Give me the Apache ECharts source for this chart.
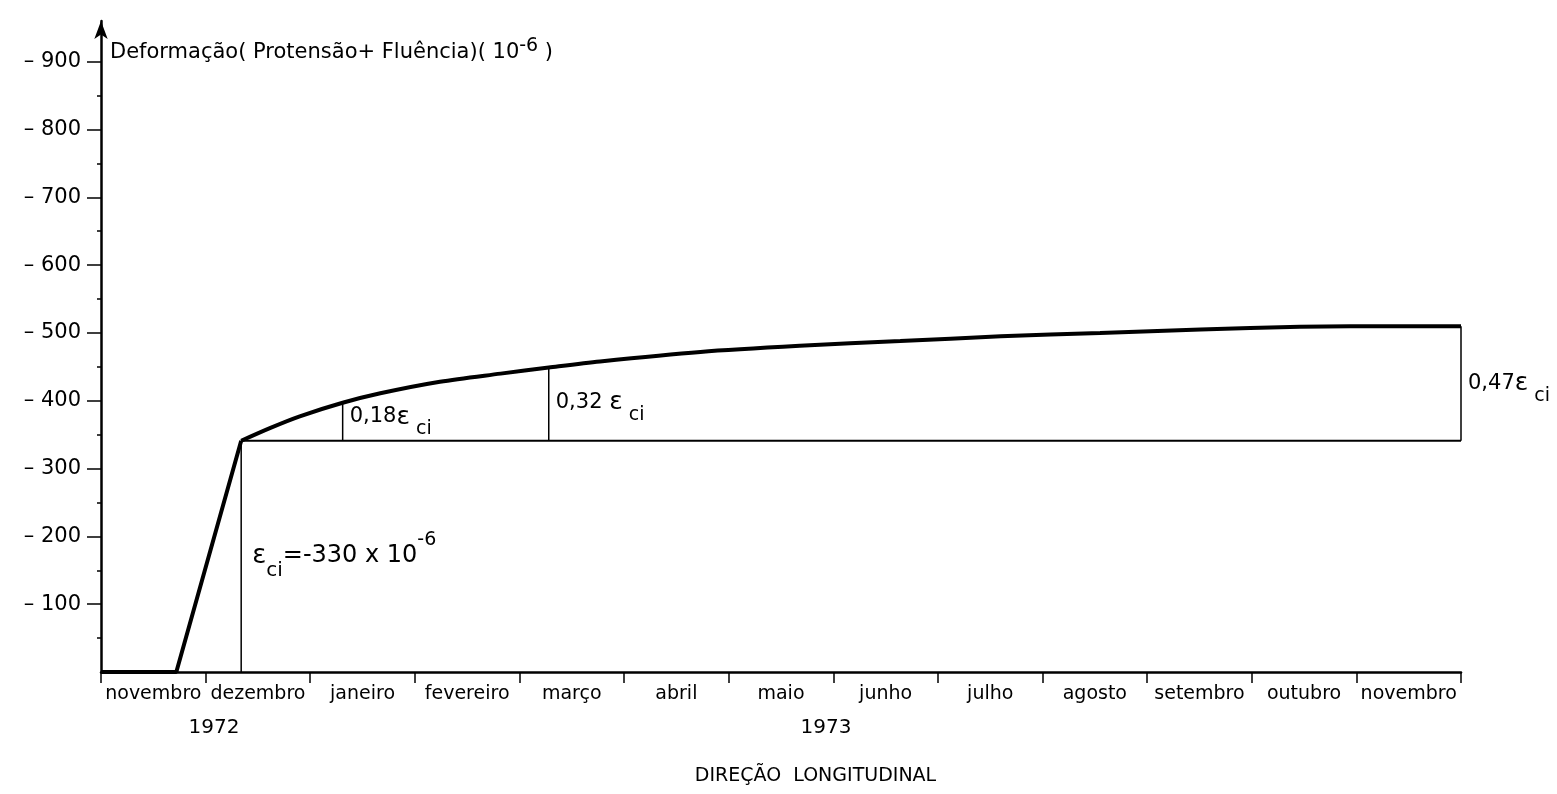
<!DOCTYPE html>
<html lang="pt">
<head>
    <meta charset="UTF-8">
    <title>Deformação ( Protensão + Fluência )</title>
    <style>
        html, body { margin: 0; padding: 0; background: #fff; }
        #chart { width: 1557px; height: 794px; }
    </style>
</head>
<body>
    <div id="chart"></div>
    <script src="https://cdn.jsdelivr.net/npm/echarts@6/dist/echarts.min.js"></script>
    <script>
        // eixo x: novembro 1972 .. novembro 1973 (x em meses desde o inicio)
        var months = ['novembro', 'dezembro', 'janeiro', 'fevereiro', 'março', 'abril', 'maio',
                      'junho', 'julho', 'agosto', 'setembro', 'outubro', 'novembro'];
        var yearNames = ['1972', '1973'];
        var yearPos = [1.08, 6.93];

        // eixo y (10^-6)
        var yTickValues = [100, 200, 300, 400, 500, 600, 700, 800, 900];
        var yLabelValues = [100, 200, 300, 400, 500, 600, 700, 800, 900];
        var yMinorValues = [50, 150, 250, 350, 450, 550, 650, 750, 850];

        // protensao (subida) e fluencia (curva)
        var rampX = [0, 0.72, 1.34];
        var rampY = [0, 0, 341];
        var creepX = [1.34, 1.62, 1.90, 2.31, 2.67, 3.24, 3.82, 4.28, 4.77, 5.73, 6.68, 7.64, 8.60, 9.55, 10.51, 11.46, 12.42, 13];
        var creepY = [341, 360, 377, 397, 411, 428, 440, 449, 458, 472, 481, 488, 495, 500, 505, 509, 510, 510];

        // linha de referencia e cotas verticais
        var baseX = [1.34, 13];
        var baseY = [341, 341];
        var markX = [1.34, 2.31, 4.28, 13];
        var markTop = [341, 397, 449, 510];
        var markBottom = [0, 341, 341, 341];

        // textos das cotas
        var noteX = [1.34, 2.31, 4.28, 13];
        var noteY = [171, 376, 398, 426];
        var noteText = ['{E|ε}{S|ci}{N|=-330 x 10}{P|-6}', '{n|0,18}{e|ε}{sub| ci}', '{n|0,32 }{e|ε}{sub| ci}', '{n|0,47}{e|ε}{sub| ci}'];

        var font = 'DejaVu Sans';
        var chart = echarts.init(document.getElementById('chart'));

        function pairs(xs, ys) {
            return xs.map(function (x, i) { return [x, ys[i]]; });
        }

        var series = [
            {
                type: 'line', xAxisIndex: 1, data: pairs(rampX, rampY),
                symbol: 'none', lineStyle: { color: '#000', width: 4 }, z: 5
            },
            {
                type: 'line', xAxisIndex: 1, data: pairs(creepX, creepY), smooth: 0.3,
                symbol: 'none', lineStyle: { color: '#000', width: 4 }, z: 5
            },
            {
                type: 'line', xAxisIndex: 1, data: pairs(baseX, baseY),
                symbol: 'none', lineStyle: { color: '#000', width: 1.8 }
            }
        ];
        markX.forEach(function (x, i) {
            series.push({
                type: 'line', xAxisIndex: 1, data: [[x, markBottom[i]], [x, markTop[i]]],
                symbol: 'none', lineStyle: { color: '#000', width: 1.5 }
            });
        });

        var option = {
            animation: false,
            backgroundColor: '#fff',
            grid: { left: 101, right: 96, top: 21, bottom: 122 },
            xAxis: [
                {
                    type: 'category', data: months, boundaryGap: true,
                    axisLine: { lineStyle: { color: '#000', width: 2.5 } },
                    axisTick: { show: true, interval: 0, length: 11, lineStyle: { color: '#000', width: 1.5 } },
                    axisLabel: { interval: 0, margin: 13, color: '#000', fontFamily: font, fontSize: 19 },
                    splitLine: { show: false }
                },
                { type: 'value', min: 0, max: 13, show: false }
            ],
            yAxis: [
                {
                    type: 'value', min: 0, max: 960, position: 'left',
                    axisLine: {
                        show: true, symbol: ['none', 'arrow'], symbolSize: [10, 18],
                        lineStyle: { color: '#000', width: 2.5 }
                    },
                    axisTick: { show: true, length: 14, customValues: yTickValues, lineStyle: { color: '#000', width: 1.5 } },
                    axisLabel: {
                        customValues: yLabelValues, margin: 20, color: '#000', fontFamily: font, fontSize: 21,
                        formatter: function (v) { return '– ' + v; }
                    },
                    splitLine: { show: false }
                },
                {
                    type: 'value', min: 0, max: 960, position: 'left', offset: 0,
                    axisLine: { show: false },
                    axisTick: { show: true, length: 4, customValues: yMinorValues, lineStyle: { color: '#000', width: 1.5 } },
                    axisLabel: { show: false },
                    splitLine: { show: false }
                }
            ],
            series: series
        };
        chart.setOption(option);

        // textos posicionados pelas escalas do grafico
        var richNotes = {
            n: { fontSize: 21, lineHeight: 44, fontFamily: font, fill: '#000' },
            e: { fontSize: 25, lineHeight: 44, fontFamily: font, fill: '#000' },
            sub: { fontSize: 19, lineHeight: 16, verticalAlign: 'bottom', fontFamily: font, fill: '#000' },
            N: { fontSize: 24, lineHeight: 50, fontFamily: font, fill: '#000' },
            E: { fontSize: 26, lineHeight: 50, fontFamily: font, fill: '#000' },
            S: { fontSize: 20, lineHeight: 18, verticalAlign: 'bottom', fontFamily: font, fill: '#000' },
            P: { fontSize: 19, lineHeight: 40, verticalAlign: 'top', fontFamily: font, fill: '#000' }
        };
        var x0 = chart.convertToPixel({ xAxisIndex: 1 }, 0);
        var y0 = chart.convertToPixel({ yAxisIndex: 0 }, 0);
        var graphics = [
            {
                type: 'text', x: x0 + 9, y: chart.convertToPixel({ yAxisIndex: 0 }, 914),
                style: {
                    text: 'Deformação( Protensão+ Fluência)( 10{sup|-6} )',
                    fill: '#000', fontFamily: font, fontSize: 21, align: 'left', verticalAlign: 'middle', lineHeight: 32,
                    rich: { sup: { fontSize: 19, lineHeight: 16, verticalAlign: 'top', fontFamily: font, fill: '#000' } }
                }
            },
            {
                type: 'text', x: chart.convertToPixel({ xAxisIndex: 1 }, 6.83), y: y0 + 104,
                style: {
                    text: 'DIREÇÃO  LONGITUDINAL', fill: '#000', fontFamily: font, fontSize: 19,
                    align: 'center', verticalAlign: 'middle'
                }
            }
        ];
        yearNames.forEach(function (name, i) {
            graphics.push({
                type: 'text', x: chart.convertToPixel({ xAxisIndex: 1 }, yearPos[i]), y: y0 + 56,
                style: { text: name, fill: '#000', fontFamily: font, fontSize: 20, align: 'center', verticalAlign: 'middle' }
            });
        });
        noteX.forEach(function (x, i) {
            var p = chart.convertToPixel({ xAxisIndex: 1, yAxisIndex: 0 }, [x, noteY[i]]);
            graphics.push({
                type: 'text', x: p[0] + (i === 0 ? 11 : 7), y: p[1],
                style: {
                    text: noteText[i], fill: '#000', fontFamily: font, fontSize: 21,
                    align: 'left', verticalAlign: 'middle', rich: richNotes
                }
            });
        });
        chart.setOption({ graphic: graphics });
    </script>
</body>
</html>
